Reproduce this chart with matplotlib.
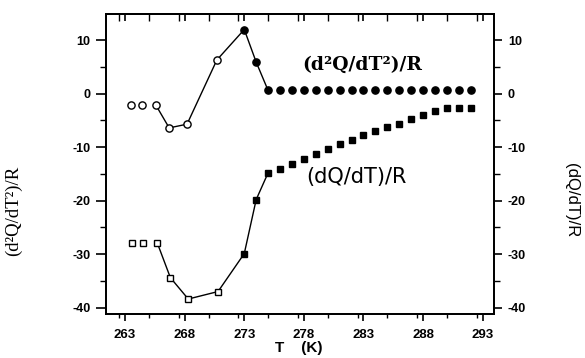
import matplotlib
matplotlib.use("Agg")
import matplotlib.pyplot as plt
from matplotlib.ticker import MultipleLocator

plt.rcParams['axes.unicode_minus'] = False

# d2Q/dT2 / R  (circles)
T_c_open = [263.5, 264.4, 265.6, 266.7, 268.2, 270.7]
c_open = [-2.2, -2.2, -2.2, -6.4, -5.7, 6.3]
T_c_fill = [273, 274, 275, 276, 277, 278, 279, 280, 281, 282, 283, 284,
            285, 286, 287, 288, 289, 290, 291, 292]
c_fill = [12.0, 5.9, 0.6, 0.6, 0.6, 0.6, 0.6, 0.6, 0.6, 0.6, 0.6, 0.6,
          0.6, 0.6, 0.6, 0.6, 0.6, 0.6, 0.6, 0.6]

# dQ/dT / R  (squares)
T_s_open = [263.6, 264.5, 265.7, 266.8, 268.3, 270.8]
s_open = [-27.9, -27.9, -27.9, -34.4, -38.4, -37.0]
T_s_fill = [273, 274, 275, 276, 277, 278, 279, 280, 281, 282, 283, 284,
            285, 286, 287, 288, 289, 290, 291, 292]
s_fill = [-29.9, -19.8, -14.8, -14.0, -13.1, -12.3, -11.2, -10.4, -9.5, -8.7,
          -7.8, -7.0, -6.3, -5.6, -4.8, -4.0, -3.2, -2.7, -2.7, -2.7]

x_ticks = [263, 268, 273, 278, 283, 288, 293]
y_ticks = [10, 0, -10, -20, -30, -40]

fig = plt.figure(figsize=(5.85, 3.58), dpi=100)
ax = fig.add_axes([106/585, 1-314/358, 388/585, 300/358])

# connecting lines (from 3rd open point through 275 K)
ax.plot(T_c_open[2:] + T_c_fill[:3], c_open[2:] + c_fill[:3], color='black', lw=1.0, zorder=1)
ax.plot(T_s_open[2:] + T_s_fill[:3], s_open[2:] + s_fill[:3], color='black', lw=1.0, zorder=1)

ax.plot(T_c_open, c_open, 'o', ms=5.2, mfc='white', mec='black', mew=1.0, ls='none', zorder=3)
ax.plot(T_c_fill, c_fill, 'o', ms=5.2, mfc='black', mec='black', ls='none', zorder=3)
ax.plot(T_s_open, s_open, 's', ms=4.8, mfc='white', mec='black', mew=1.0, ls='none', zorder=3)
ax.plot(T_s_fill, s_fill, 's', ms=4.8, mfc='black', mec='black', ls='none', zorder=3)

ax.set_xlim(261.4, 293.95)
ax.set_ylim(-41.2, 14.9)
ax.set_xticks(x_ticks)
ax.xaxis.set_minor_locator(MultipleLocator(2.5))
ax.set_yticks(y_ticks)
ax.yaxis.set_minor_locator(MultipleLocator(5))

for s in ax.spines.values():
    s.set_linewidth(1.3)

ax.tick_params(axis='x', which='major', direction='out', length=5, width=1.2, pad=6, labelsize=9.5)
ax.tick_params(axis='x', which='minor', direction='out', length=3, width=1.0)
ax.tick_params(axis='y', which='major', direction='out', length=7, width=1.2, pad=4, labelsize=9)
ax.tick_params(axis='y', which='minor', direction='out', length=4, width=1.0)
for lab in ax.get_xticklabels() + ax.get_yticklabels():
    lab.set_fontfamily('Liberation Sans')
    lab.set_fontweight('bold')

# top axis: inward ticks, no labels
axt = ax.secondary_xaxis('top')
axt.set_xticks(x_ticks)
axt.xaxis.set_minor_locator(MultipleLocator(2.5))
axt.tick_params(axis='x', which='major', direction='in', length=5, width=1.2, labeltop=False)
axt.tick_params(axis='x', which='minor', direction='in', length=5, width=1.0)
axt.spines['top'].set_linewidth(1.3)

ax2 = ax.twinx()
ax2.set_ylim(ax.get_ylim())
ax2.set_yticks(y_ticks)
ax2.yaxis.set_minor_locator(MultipleLocator(5))
ax2.tick_params(axis='y', which='major', direction='out', length=6, width=1.2, pad=4, labelsize=9)
ax2.tick_params(axis='y', which='minor', direction='out', length=4, width=1.0)
for lab in ax2.get_yticklabels():
    lab.set_fontfamily('Liberation Sans')
    lab.set_fontweight('bold')
for s in ax2.spines.values():
    s.set_linewidth(1.3)

ax.set_xlabel('T    (K)', fontfamily='Liberation Sans', fontweight='bold', fontsize=11)
ax.xaxis.set_label_coords(0.497, -0.09)
ax.set_ylabel('(d²Q/dT²)/R', fontfamily='Liberation Serif', fontsize=13.5)
ax.yaxis.set_label_coords(-0.2165, 0.343)
ax2.set_ylabel('(dQ/dT)/R', fontfamily='Liberation Sans', fontsize=12, rotation=-90)
ax2.yaxis.set_label_coords(1.201, 0.38)
ax2.yaxis.label.set_va('center')

ax.text(277.9, 5.3, '(d²Q/dT²)/R', fontfamily='DejaVu Serif', fontweight='bold',
        fontsize=13.5, ha='left', va='center')
ax.text(278.2, -15.5, '(dQ/dT)/R', fontfamily='DejaVu Sans', fontsize=15,
        ha='left', va='center')

fig.savefig('out.png', dpi=100)
